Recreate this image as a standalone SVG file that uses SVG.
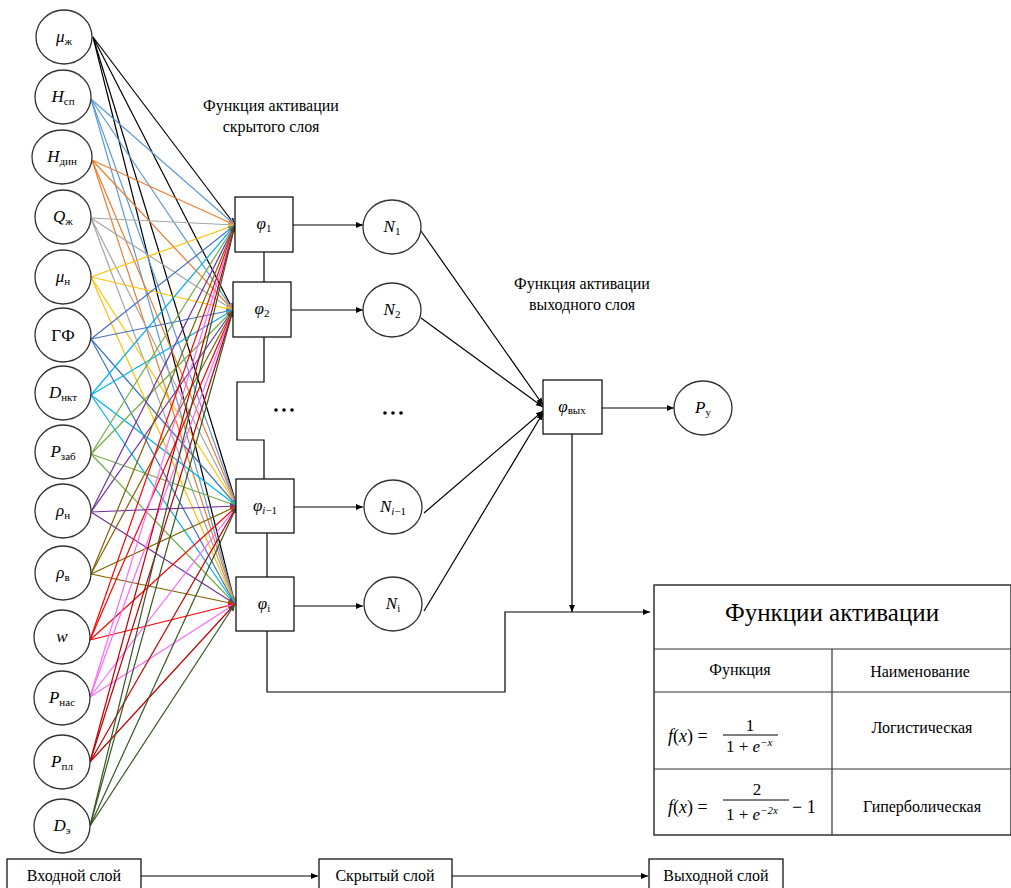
<svg xmlns="http://www.w3.org/2000/svg" width="1011" height="888" viewBox="0 0 1011 888" font-family="'Liberation Serif', 'DejaVu Serif', serif">
<style>
.nd{fill:#fff;stroke:#333;stroke-width:1.3}
.bx{fill:#fff;stroke:#000;stroke-width:1.2}
.t{font-family:'Liberation Serif','DejaVu Serif',serif;fill:#000}
.v{font-family:'Liberation Serif','DejaVu Serif',serif;font-style:italic;font-size:17px;fill:#000}
.s{font-style:normal;font-size:11px}
.k{stroke:#000;stroke-width:1.2;fill:none}
.c0{stroke:#000}.c1{stroke:#5B9BD5}.c2{stroke:#ED7D31}.c3{stroke:#A5A5A5}.c4{stroke:#FFC000}.c5{stroke:#4472C4}.c6{stroke:#00B0F0}
.c7{stroke:#70AD47}.c8{stroke:#7030A0}.c9{stroke:#806000}.c10{stroke:#FF0000}.c11{stroke:#FF66FF}.c12{stroke:#C00000}.c13{stroke:#375623}
#inlinks line{stroke-width:1.2}
</style>
<defs>
<marker id="ak" markerWidth="8" markerHeight="8" refX="7" refY="4" orient="auto" markerUnits="userSpaceOnUse"><path d="M0,1 L7,4 L0,7Z" fill="#000"/></marker>
<marker id="m0" markerWidth="8" markerHeight="8" refX="7" refY="4" orient="auto" markerUnits="userSpaceOnUse"><path d="M0,1 L7,4 L0,7Z" fill="#000"/></marker>
<marker id="m1" markerWidth="8" markerHeight="8" refX="7" refY="4" orient="auto" markerUnits="userSpaceOnUse"><path d="M0,1 L7,4 L0,7Z" fill="#5B9BD5"/></marker>
<marker id="m2" markerWidth="8" markerHeight="8" refX="7" refY="4" orient="auto" markerUnits="userSpaceOnUse"><path d="M0,1 L7,4 L0,7Z" fill="#ED7D31"/></marker>
<marker id="m3" markerWidth="8" markerHeight="8" refX="7" refY="4" orient="auto" markerUnits="userSpaceOnUse"><path d="M0,1 L7,4 L0,7Z" fill="#A5A5A5"/></marker>
<marker id="m4" markerWidth="8" markerHeight="8" refX="7" refY="4" orient="auto" markerUnits="userSpaceOnUse"><path d="M0,1 L7,4 L0,7Z" fill="#FFC000"/></marker>
<marker id="m5" markerWidth="8" markerHeight="8" refX="7" refY="4" orient="auto" markerUnits="userSpaceOnUse"><path d="M0,1 L7,4 L0,7Z" fill="#4472C4"/></marker>
<marker id="m6" markerWidth="8" markerHeight="8" refX="7" refY="4" orient="auto" markerUnits="userSpaceOnUse"><path d="M0,1 L7,4 L0,7Z" fill="#00B0F0"/></marker>
<marker id="m7" markerWidth="8" markerHeight="8" refX="7" refY="4" orient="auto" markerUnits="userSpaceOnUse"><path d="M0,1 L7,4 L0,7Z" fill="#70AD47"/></marker>
<marker id="m8" markerWidth="8" markerHeight="8" refX="7" refY="4" orient="auto" markerUnits="userSpaceOnUse"><path d="M0,1 L7,4 L0,7Z" fill="#7030A0"/></marker>
<marker id="m9" markerWidth="8" markerHeight="8" refX="7" refY="4" orient="auto" markerUnits="userSpaceOnUse"><path d="M0,1 L7,4 L0,7Z" fill="#806000"/></marker>
<marker id="m10" markerWidth="8" markerHeight="8" refX="7" refY="4" orient="auto" markerUnits="userSpaceOnUse"><path d="M0,1 L7,4 L0,7Z" fill="#FF0000"/></marker>
<marker id="m11" markerWidth="8" markerHeight="8" refX="7" refY="4" orient="auto" markerUnits="userSpaceOnUse"><path d="M0,1 L7,4 L0,7Z" fill="#FF66FF"/></marker>
<marker id="m12" markerWidth="8" markerHeight="8" refX="7" refY="4" orient="auto" markerUnits="userSpaceOnUse"><path d="M0,1 L7,4 L0,7Z" fill="#C00000"/></marker>
<marker id="m13" markerWidth="8" markerHeight="8" refX="7" refY="4" orient="auto" markerUnits="userSpaceOnUse"><path d="M0,1 L7,4 L0,7Z" fill="#375623"/></marker>
</defs>
<rect width="1011" height="888" fill="#fff"/>

<g id="inlinks">
<g class="c0" marker-end="url(#m0)"><line x1="93" y1="37" x2="235" y2="225"/><line x1="93" y1="37" x2="233" y2="310"/><line x1="93" y1="37" x2="237" y2="506"/><line x1="93" y1="37" x2="235" y2="604"/></g>
<g class="c1" marker-end="url(#m1)"><line x1="91" y1="99" x2="235" y2="225"/><line x1="91" y1="99" x2="233" y2="310"/><line x1="91" y1="99" x2="237" y2="506"/><line x1="91" y1="99" x2="235" y2="604"/></g>
<g class="c2" marker-end="url(#m2)"><line x1="92" y1="160" x2="235" y2="225"/><line x1="92" y1="160" x2="233" y2="310"/><line x1="92" y1="160" x2="237" y2="506"/><line x1="92" y1="160" x2="235" y2="604"/></g>
<g class="c3" marker-end="url(#m3)"><line x1="91" y1="218" x2="235" y2="225"/><line x1="91" y1="218" x2="233" y2="310"/><line x1="91" y1="218" x2="237" y2="506"/><line x1="91" y1="218" x2="235" y2="604"/></g>
<g class="c4" marker-end="url(#m4)"><line x1="91" y1="277" x2="235" y2="225"/><line x1="91" y1="277" x2="233" y2="310"/><line x1="91" y1="277" x2="237" y2="506"/><line x1="91" y1="277" x2="235" y2="604"/></g>
<g class="c5" marker-end="url(#m5)"><line x1="91" y1="339" x2="235" y2="225"/><line x1="91" y1="339" x2="233" y2="310"/><line x1="91" y1="339" x2="237" y2="506"/><line x1="91" y1="339" x2="235" y2="604"/></g>
<g class="c6" marker-end="url(#m6)"><line x1="91" y1="395" x2="235" y2="225"/><line x1="91" y1="395" x2="233" y2="310"/><line x1="91" y1="395" x2="237" y2="506"/><line x1="91" y1="395" x2="235" y2="604"/></g>
<g class="c7" marker-end="url(#m7)"><line x1="91" y1="454" x2="235" y2="225"/><line x1="91" y1="454" x2="233" y2="310"/><line x1="91" y1="454" x2="237" y2="506"/><line x1="91" y1="454" x2="235" y2="604"/></g>
<g class="c8" marker-end="url(#m8)"><line x1="91" y1="512" x2="235" y2="225"/><line x1="91" y1="512" x2="233" y2="310"/><line x1="91" y1="512" x2="237" y2="506"/><line x1="91" y1="512" x2="235" y2="604"/></g>
<g class="c9" marker-end="url(#m9)"><line x1="91" y1="574" x2="235" y2="225"/><line x1="91" y1="574" x2="233" y2="310"/><line x1="91" y1="574" x2="237" y2="506"/><line x1="91" y1="574" x2="235" y2="604"/></g>
<g class="c10" marker-end="url(#m10)"><line x1="90" y1="640" x2="235" y2="225"/><line x1="90" y1="640" x2="233" y2="310"/><line x1="90" y1="640" x2="237" y2="506"/><line x1="90" y1="640" x2="235" y2="604"/></g>
<g class="c11" marker-end="url(#m11)"><line x1="90" y1="697" x2="235" y2="225"/><line x1="90" y1="697" x2="233" y2="310"/><line x1="90" y1="697" x2="237" y2="506"/><line x1="90" y1="697" x2="235" y2="604"/></g>
<g class="c12" marker-end="url(#m12)"><line x1="90" y1="762" x2="235" y2="225"/><line x1="90" y1="762" x2="233" y2="310"/><line x1="90" y1="762" x2="237" y2="506"/><line x1="90" y1="762" x2="235" y2="604"/></g>
<g class="c13" marker-end="url(#m13)"><line x1="90" y1="826" x2="235" y2="225"/><line x1="90" y1="826" x2="233" y2="310"/><line x1="90" y1="826" x2="237" y2="506"/><line x1="90" y1="826" x2="235" y2="604"/></g>
</g>

<g id="connectors" class="k">
<polyline points="264,252 264,282"/>
<polyline points="264,337 264,382 237,382 237,440 264,440 264,479"/>
<polyline points="267,533 267,577"/>
<line x1="293" y1="225" x2="363" y2="225" marker-end="url(#ak)"/>
<line x1="291" y1="310" x2="363" y2="310" marker-end="url(#ak)"/>
<line x1="294" y1="507" x2="363" y2="507" marker-end="url(#ak)"/>
<line x1="294" y1="606" x2="363" y2="606" marker-end="url(#ak)"/>
<line x1="421" y1="231" x2="543" y2="405" marker-end="url(#ak)"/>
<line x1="421" y1="318" x2="543" y2="407" marker-end="url(#ak)"/>
<line x1="424" y1="513" x2="543" y2="411" marker-end="url(#ak)"/>
<line x1="424" y1="611" x2="543" y2="413" marker-end="url(#ak)"/>
<line x1="602" y1="408" x2="674" y2="408" marker-end="url(#ak)"/>
<line x1="572" y1="434" x2="572" y2="612" marker-end="url(#ak)"/>
<polyline points="267,631 267,692 505,692 505,612 650,612" marker-end="url(#ak)"/>
<line x1="141" y1="876" x2="318" y2="876" marker-end="url(#ak)"/>
<line x1="452" y1="876" x2="648" y2="876" marker-end="url(#ak)"/>
</g>

<g id="in-mu-zh"><ellipse class="nd" cx="64" cy="37" rx="28" ry="27"/><text class="v" x="64" y="42" text-anchor="middle">μ<tspan class="s" dy="3">ж</tspan></text></g>
<g id="in-H-sp"><ellipse class="nd" cx="63" cy="97" rx="28" ry="27"/><text class="v" x="63" y="102" text-anchor="middle">H<tspan class="s" dy="3">сп</tspan></text></g>
<g id="in-H-din"><ellipse class="nd" cx="62" cy="157" rx="30" ry="27"/><text class="v" x="62" y="162" text-anchor="middle">H<tspan class="s" dy="3">дин</tspan></text></g>
<g id="in-Q-zh"><ellipse class="nd" cx="63" cy="217" rx="28" ry="27"/><text class="v" x="63" y="222" text-anchor="middle">Q<tspan class="s" dy="3">ж</tspan></text></g>
<g id="in-mu-n"><ellipse class="nd" cx="63" cy="277" rx="28" ry="27"/><text class="v" x="63" y="282" text-anchor="middle">μ<tspan class="s" dy="3">н</tspan></text></g>
<g id="in-GF"><ellipse class="nd" cx="63" cy="335" rx="28" ry="27"/><text class="t" x="63" y="341" text-anchor="middle" font-size="17">ГФ</text></g>
<g id="in-D-nkt"><ellipse class="nd" cx="63" cy="393" rx="28" ry="27"/><text class="v" x="63" y="398" text-anchor="middle">D<tspan class="s" dy="3">нкт</tspan></text></g>
<g id="in-P-zab"><ellipse class="nd" cx="63" cy="452" rx="28" ry="27"/><text class="v" x="63" y="457" text-anchor="middle">P<tspan class="s" dy="3">заб</tspan></text></g>
<g id="in-rho-n"><ellipse class="nd" cx="63" cy="511" rx="28" ry="27"/><text class="v" x="63" y="516" text-anchor="middle">ρ<tspan class="s" dy="3">н</tspan></text></g>
<g id="in-rho-v"><ellipse class="nd" cx="63" cy="573" rx="28" ry="27"/><text class="v" x="63" y="578" text-anchor="middle">ρ<tspan class="s" dy="3">в</tspan></text></g>
<g id="in-w"><ellipse class="nd" cx="62" cy="637" rx="28" ry="27"/><text class="v" x="62" y="642" text-anchor="middle">w</text></g>
<g id="in-P-nas"><ellipse class="nd" cx="62" cy="698" rx="28" ry="27"/><text class="v" x="62" y="703" text-anchor="middle">P<tspan class="s" dy="3">нас</tspan></text></g>
<g id="in-P-pl"><ellipse class="nd" cx="62" cy="762" rx="28" ry="27"/><text class="v" x="62" y="767" text-anchor="middle">P<tspan class="s" dy="3">пл</tspan></text></g>
<g id="in-D-e"><ellipse class="nd" cx="62" cy="826" rx="28" ry="27"/><text class="v" x="62" y="831" text-anchor="middle">D<tspan class="s" dy="3">э</tspan></text></g>

<g id="label-hidden"><text class="t" font-size="16" text-anchor="middle"><tspan x="271" y="111">Функция активации</tspan><tspan x="271" y="132">скрытого слоя</tspan></text></g>
<g id="label-out"><text class="t" font-size="16" text-anchor="middle"><tspan x="582" y="289">Функция активации</tspan><tspan x="582" y="310">выходного слоя</tspan></text></g>

<g id="phi1"><rect class="bx" x="235" y="197" width="58" height="55"/><text class="v" x="264" y="229" text-anchor="middle">φ<tspan class="s" dy="3">1</tspan></text></g>
<g id="phi2"><rect class="bx" x="233" y="282" width="58" height="55"/><text class="v" x="262" y="314" text-anchor="middle">φ<tspan class="s" dy="3">2</tspan></text></g>
<g id="phi-im1"><rect class="bx" x="236" y="479" width="58" height="54"/><text class="v" x="265" y="511" text-anchor="middle">φ<tspan class="s" dy="3"><tspan font-style="italic">i</tspan>−1</tspan></text></g>
<g id="phi-i"><rect class="bx" x="236" y="577" width="58" height="54"/><text class="v" x="264" y="609" text-anchor="middle">φ<tspan class="s" dy="3" font-style="italic">i</tspan></text></g>
<g id="dots1"><circle cx="276" cy="410" r="1.8"/><circle cx="284" cy="410" r="1.8"/><circle cx="292" cy="410" r="1.8"/></g>
<g id="dots2"><circle cx="385" cy="413" r="1.8"/><circle cx="393" cy="413" r="1.8"/><circle cx="401" cy="413" r="1.8"/></g>

<g id="N1"><ellipse class="nd" cx="392" cy="227" rx="29" ry="27"/><text class="v" x="392" y="232" text-anchor="middle">N<tspan class="s" dy="3">1</tspan></text></g>
<g id="N2"><ellipse class="nd" cx="392" cy="310" rx="29" ry="27"/><text class="v" x="392" y="315" text-anchor="middle">N<tspan class="s" dy="3">2</tspan></text></g>
<g id="N-im1"><ellipse class="nd" cx="393" cy="507" rx="29" ry="27"/><text class="v" x="393" y="512" text-anchor="middle">N<tspan class="s" dy="3"><tspan font-style="italic">i</tspan>−1</tspan></text></g>
<g id="N-i"><ellipse class="nd" cx="393" cy="604" rx="29" ry="27"/><text class="v" x="393" y="609" text-anchor="middle">N<tspan class="s" dy="3" font-style="italic">i</tspan></text></g>

<g id="phi-out"><rect class="bx" x="543" y="380" width="59" height="54"/><text class="v" x="572" y="412" text-anchor="middle">φ<tspan class="s" dy="2">вых</tspan></text></g>
<g id="P-y"><ellipse class="nd" cx="703" cy="408" rx="29" ry="27"/><text class="v" x="703" y="413" text-anchor="middle">P<tspan class="s" dy="3">у</tspan></text></g>

<g id="table">
<rect x="654" y="585" width="357" height="250" fill="#fff" stroke="#333" stroke-width="1.5"/>
<line x1="654" y1="649" x2="1011" y2="649" stroke="#333" stroke-width="1.2"/>
<line x1="654" y1="692" x2="1011" y2="692" stroke="#333" stroke-width="1.2"/>
<line x1="654" y1="769" x2="1011" y2="769" stroke="#333" stroke-width="1.2"/>
<line x1="832" y1="649" x2="832" y2="835" stroke="#333" stroke-width="1.2"/>
<text class="t" x="832" y="621" font-size="25" text-anchor="middle">Функции активации</text>
<text class="t" x="740" y="675" font-size="16" text-anchor="middle">Функция</text>
<text class="t" x="920" y="677" font-size="16" text-anchor="middle">Наименование</text>
<text class="t" x="922" y="733" font-size="16" text-anchor="middle">Логистическая</text>
<text class="t" x="922" y="812" font-size="16" text-anchor="middle">Гиперболическая</text>
<text class="t" x="668" y="742" font-size="18"><tspan font-style="italic">f</tspan>(<tspan font-style="italic">x</tspan>) =</text>
<text class="t" x="750" y="731" font-size="17" text-anchor="middle">1</text>
<line x1="723" y1="735" x2="778" y2="735" stroke="#000" stroke-width="1"/>
<text class="t" x="726" y="752" font-size="17">1 + <tspan font-style="italic">e</tspan><tspan font-size="11" dy="-6" font-style="italic">−x</tspan></text>
<text class="t" x="668" y="813" font-size="18"><tspan font-style="italic">f</tspan>(<tspan font-style="italic">x</tspan>) =</text>
<text class="t" x="757" y="795" font-size="17" text-anchor="middle">2</text>
<line x1="723" y1="800" x2="789" y2="800" stroke="#000" stroke-width="1"/>
<text class="t" x="726" y="820" font-size="17">1 + <tspan font-style="italic">e</tspan><tspan font-size="11" dy="-6" font-style="italic">−2x</tspan></text>
<text class="t" x="792" y="813" font-size="18">− 1</text>
</g>

<g id="layer-in"><rect class="bx" x="7" y="859" width="134" height="32"/><text class="t" x="74" y="881" font-size="16" text-anchor="middle">Входной слой</text></g>
<g id="layer-hidden"><rect class="bx" x="319" y="859" width="133" height="32"/><text class="t" x="385" y="881" font-size="16" text-anchor="middle">Скрытый слой</text></g>
<g id="layer-out"><rect class="bx" x="649" y="859" width="134" height="32"/><text class="t" x="716" y="881" font-size="16" text-anchor="middle">Выходной слой</text></g>
</svg>
